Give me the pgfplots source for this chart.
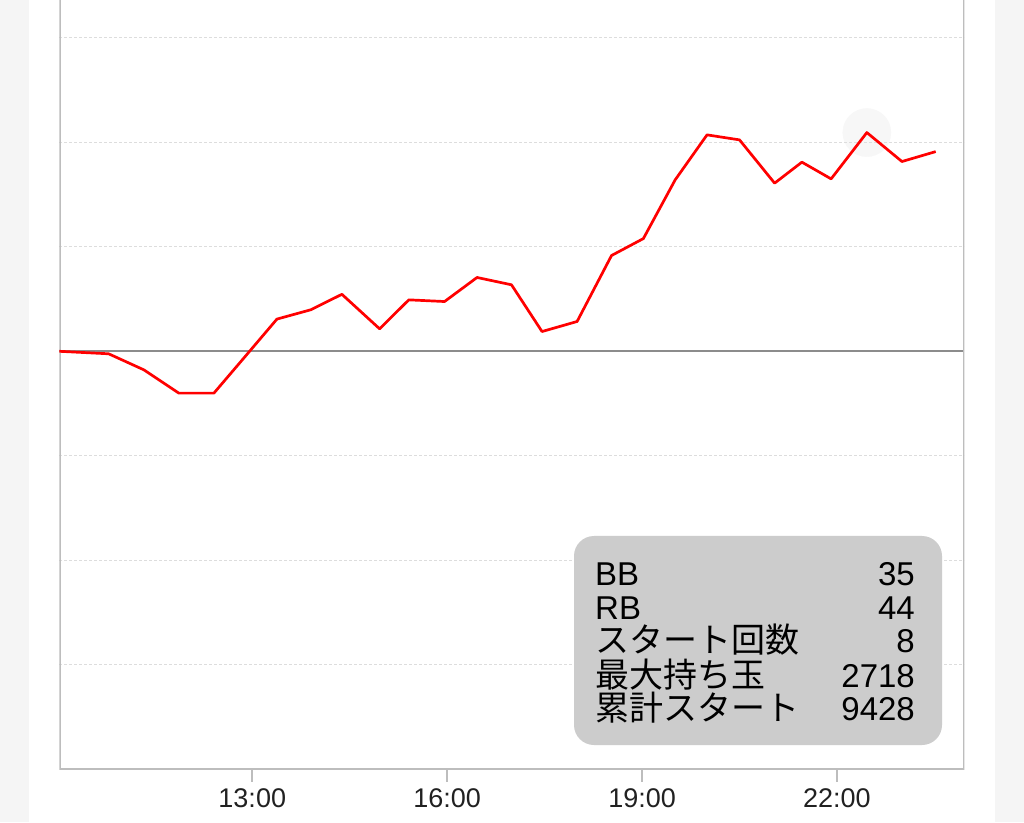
\documentclass[border=0pt]{standalone}
\usepackage{pgfplots}
\pgfplotsset{compat=1.18}
\usepackage{fontspec}
\setmainfont{Liberation Sans}
\newfontfamily\cjk{Noto Sans CJK JP}
\definecolor{sidegray}{HTML}{F5F5F5}
\definecolor{axisgray}{HTML}{BDBDBD}
\definecolor{gridgray}{HTML}{DDDDDD}
\definecolor{zerogray}{HTML}{8C8C8C}
\definecolor{boxgray}{HTML}{CCCCCC}
\definecolor{hl}{HTML}{F7F7F7}
\definecolor{labelc}{HTML}{212121}
\pgfplotsset{base/.style={
  at={(59.3pt,52.5pt)}, anchor=south west,
  scale only axis, width=905pt, height=769.5pt,
  xmin=10.03, xmax=23.96, ymin=-4000, ymax=3360}}
\begin{document}
\begin{tikzpicture}[x=1pt,y=1pt]
\fill[sidegray] (0,0) rectangle (1024,822);
\fill[white] (29,0) rectangle (995,822);
\begin{axis}[base, hide axis]
\addplot[only marks, mark=*, mark size=24pt, mark options={fill=hl, draw=hl}] coordinates {(22.46,2092)};
\end{axis}
\begin{axis}[
  base,
  axis line style={draw=none},
  xtick={13,16,19,22},
  xticklabels={13:00,16:00,19:00,22:00},
  xtick pos=bottom,
  ytick={-3000,-2000,-1000,1000,2000,3000},
  yticklabels={}, scaled y ticks=false,
  ymajorgrids,
  major grid style={draw=gridgray, line width=1pt, dash pattern=on 3pt off 2pt},
  extra y ticks={0}, extra y tick labels={},
  extra y tick style={grid=major, major grid style={draw=zerogray, line width=2pt, solid}, tick style={draw=none}},
  x tick style={draw=axisgray, line width=2pt},
  y tick style={draw=none},
  tick align=outside, major tick length=12pt,
  xticklabel style={font=\fontsize{27}{30}\selectfont, text=labelc, yshift=-4pt},
]
\draw[axisgray, line width=2.4pt] (rel axis cs:0,1) -- (rel axis cs:0,0) -- (rel axis cs:1,0) -- (rel axis cs:1,1);
\addplot[red, line width=2.7pt, line join=round, mark=none] coordinates {
(10.03,0) (10.79,-24) (11.33,-177) (11.87,-400) (12.41,-400) (12.90,-43)
(13.38,308) (13.90,397) (14.38,545) (14.96,215) (15.41,492) (15.96,476)
(16.46,706) (16.99,636) (17.46,189) (18.00,285) (18.53,916) (19.02,1078)
(19.51,1640) (20.00,2070) (20.50,2022) (21.04,1608) (21.46,1809) (21.91,1649)
(22.46,2092) (23.00,1815) (23.52,1910)
};
\end{axis}
\fill[boxgray, rounded corners=20pt] (574,77) rectangle (942,286);
\begin{scope}[every node/.style={inner sep=0pt, text=black, font=\fontsize{33}{36}\selectfont}]
\node[anchor=base west] at (595,237) {BB};
\node[anchor=base east] at (915,237) {35};
\node[anchor=base west] at (595,203) {RB};
\node[anchor=base east] at (915,203) {44};
\node[anchor=base west] at (595,170) {\cjk\fontsize{34}{36}\selectfont スタート回数};
\node[anchor=base east] at (915,170) {8};
\node[anchor=base west] at (595,135) {\cjk\fontsize{34}{36}\selectfont 最大持ち玉};
\node[anchor=base east] at (915,135) {2718};
\node[anchor=base west] at (595,102) {\cjk\fontsize{34}{36}\selectfont 累計スタート};
\node[anchor=base east] at (915,102) {9428};
\end{scope}
\pgfresetboundingbox
\useasboundingbox (0,0) rectangle (1024,822);
\end{tikzpicture}
\end{document}
